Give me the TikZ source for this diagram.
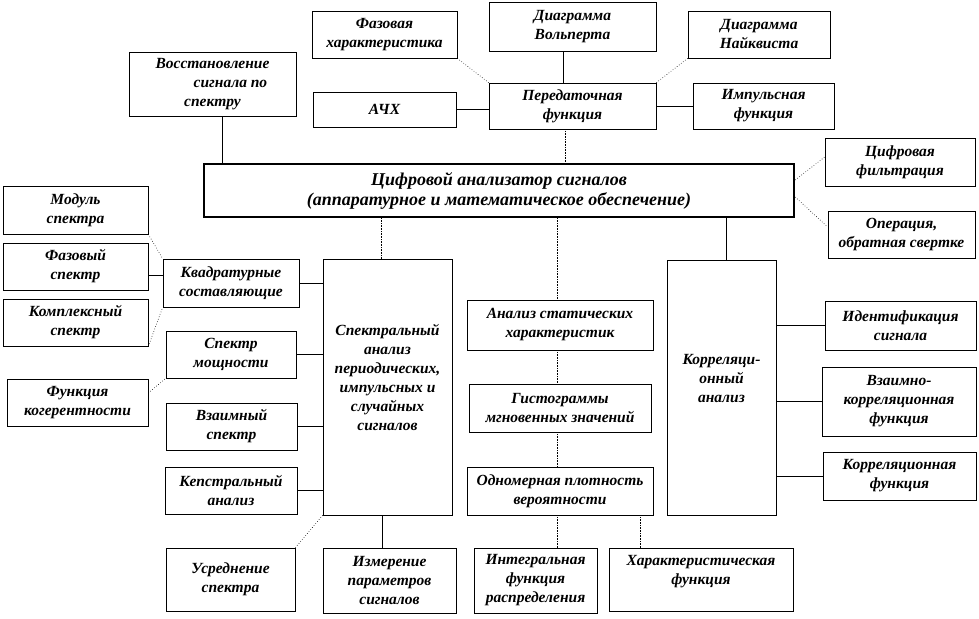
\documentclass[tikz,border=0pt]{standalone}
\usepackage{fontspec}
\setmainfont{Liberation Serif}
\usetikzlibrary{calc}

\begin{document}
\begin{tikzpicture}[x=1pt,y=-1pt,
        plain box/.style={draw, line width=.7pt, inner sep=0pt, align=center,
          font=\fontsize{15.5}{19}\selectfont\bfseries\itshape},
        main box/.style={draw, line width=2.5pt, inner sep=0pt, align=center,
          font=\fontsize{18}{20}\selectfont\bfseries\itshape},
        solid link/.style={line width=.7pt},
        dense link/.style={line width=1pt, dash pattern=on .8pt off .8pt},
        loose link/.style={line width=.6pt, dotted}]
        \useasboundingbox (0,0) rectangle (979,618);

        \node[plain box, minimum width=145pt, minimum height=47pt] (phch)  at (384.5, 34.5) {Фазовая\\характеристика};
        \node[plain box, minimum width=167pt, minimum height=49pt] (dvol)  at (572.5, 26.5) {Диаграмма\\Вольперта};
        \node[plain box, minimum width=142pt, minimum height=47pt] (dnyq)  at (759.0, 34.5) {Диаграмма\\Найквиста};
        \node[plain box, minimum width=167pt, minimum height=64pt] (vost)  at (212.5, 84.0) {Восстановление\\\hspace*{36pt}сигнала по\\спектру};
        \node[plain box, minimum width=143pt, minimum height=35pt] (achx)  at (384.5,109.5) {АЧХ};
        \node[plain box, minimum width=167pt, minimum height=46pt] (pf)    at (572.5,106.0) {Передаточная\\функция};
        \node[plain box, minimum width=141pt, minimum height=46pt] (impf)  at (763.5,106.0) {Импульсная\\функция};
        \node[main box,  minimum width=590pt, minimum height=53pt] (main)  at (499.0,190.5) {Цифровой анализатор сигналов\\(аппаратурное и математическое обеспечение)};
        \node[plain box, minimum width=150pt, minimum height=48pt] (cf)    at (900.0,162.0) {Цифровая\\фильтрация};
        \node[plain box, minimum width=147pt, minimum height=47pt] (oper)  at (901.5,234.5) {Операция,\\обратная свертке};

        \node[plain box, minimum width=145pt, minimum height=48pt] (mod)   at ( 75.5,210.0) {Модуль\\спектра};
        \node[plain box, minimum width=145pt, minimum height=47pt] (fs)    at ( 75.5,266.5) {Фазовый\\спектр};
        \node[plain box, minimum width=145pt, minimum height=47pt] (ks)    at ( 75.5,322.5) {Комплексный\\спектр};
        \node[plain box, minimum width=141pt, minimum height=47pt] (fk)    at ( 77.5,402.5) {Функция\\когерентности};
        \node[plain box, minimum width=136pt, minimum height=48pt] (kv)    at (231.0,283.0) {Квадратурные\\составляющие};
        \node[plain box, minimum width=130pt, minimum height=47pt] (sm)    at (231.0,354.5) {Спектр\\мощности};
        \node[plain box, minimum width=131pt, minimum height=47pt] (vs)    at (231.5,426.5) {Взаимный\\спектр};
        \node[plain box, minimum width=132pt, minimum height=47pt] (kep)   at (231.0,490.5) {Кепстральный\\анализ};
        \node[plain box, minimum width=129pt, minimum height=256pt] (spa)  at (387.5,387.0) {Спектральный\\анализ\\периодических,\\импульсных и\\случайных\\сигналов\\\mbox{}};
        \node[plain box, minimum width=129pt, minimum height=63pt] (us)    at (230.5,579.5) {Усреднение\\спектра};
        \node[plain box, minimum width=133pt, minimum height=65pt] (izm)   at (389.5,580.5) {Измерение\\параметров\\сигналов};

        \node[plain box, minimum width=186pt, minimum height=50pt] (ast)   at (560.0,325.0) {Анализ статических\\характеристик};
        \node[plain box, minimum width=182pt, minimum height=48pt] (gist)  at (560.0,408.0) {Гистограммы\\мгновенных значений};
        \node[plain box, minimum width=186pt, minimum height=48pt] (odn)   at (560.0,491.0) {Одномерная плотность\\вероятности};
        \node[plain box, minimum width=123pt, minimum height=65pt] (intf)  at (535.5,580.5) {Интегральная\\функция\\распределения};
        \node[plain box, minimum width=184pt, minimum height=63pt] (harf)  at (701.0,579.5) {Характеристическая\\функция\\\mbox{}};

        \node[plain box, minimum width=109pt, minimum height=255pt] (kor)  at (721.5,387.5) {Корреляци-\\онный\\анализ\\\mbox{}};
        \node[plain box, minimum width=151pt, minimum height=49pt] (ident) at (900.5,325.5) {Идентификация\\сигнала};
        \node[plain box, minimum width=154pt, minimum height=69pt] (vkf)   at (899.0,401.5) {Взаимно-\\корреляционная\\функция};
        \node[plain box, minimum width=153pt, minimum height=48pt] (kf)    at (899.5,476.0) {Корреляционная\\функция};

        \draw[solid link] (vost.south -| 222,0) -- (main.north -| 222,0);
        \draw[solid link] (dvol.south -| 563,0) -- (pf.north -| 563,0);
        \draw[solid link] (achx.east) -- (pf.west |- achx.east);
        \draw[solid link] (pf.east) -- (impf.west);
        \draw[solid link] (main.south -| 726,0) -- (kor.north -| 726,0);
        \draw[solid link] (fs.east |- 0,275) -- (kv.west |- 0,275);
        \draw[solid link] (kv.east) -- (spa.west |- kv.east);
        \draw[solid link] (sm.east) -- (spa.west |- sm.east);
        \draw[solid link] (vs.east) -- (spa.west |- vs.east);
        \draw[solid link] (kep.east) -- (spa.west |- kep.east);
        \draw[solid link] (spa.south -| 382,0) -- (izm.north -| 382,0);
        \draw[solid link] (kor.east |- ident.west) -- (ident.west);
        \draw[solid link] (kor.east |- vkf.west) -- (vkf.west);
        \draw[solid link] (kor.east |- kf.west) -- (kf.west);

        \draw[dense link] (pf.south -| 565,0) -- (main.north -| 565,0);
        \draw[dense link] (main.south -| 381,0) -- (spa.north -| 381,0);
        \draw[dense link] (main.south -| 557,0) -- (ast.north -| 557,0);
        \draw[dense link] (ast.south -| 557,0) -- (gist.north -| 557,0);
        \draw[dense link] (gist.south -| 557,0) -- (odn.north -| 557,0);
        \draw[dense link] (odn.south -| 557,0) -- (intf.north -| 557,0);
        \draw[dense link] (odn.south -| 640,0) -- (harf.north -| 640,0);

        \draw[loose link] (phch.south east) -- (pf.north west);
        \draw[loose link] (dnyq.south west) -- (pf.north east);
        \draw[loose link] (main.east |- 0,180) -- (cf.west |- 0,157);
        \draw[loose link] (main.east |- 0,197) -- (oper.west |- 0,227);
        \draw[loose link] (mod.south east) -- (kv.north west);
        \draw[loose link] (ks.south east) -- (kv.south west);
        \draw[loose link] (fk.east |- 0,393) -- (sm.south west);
        \draw[loose link] (spa.south west) -- (us.north east);
      \end{tikzpicture}
\end{document}
